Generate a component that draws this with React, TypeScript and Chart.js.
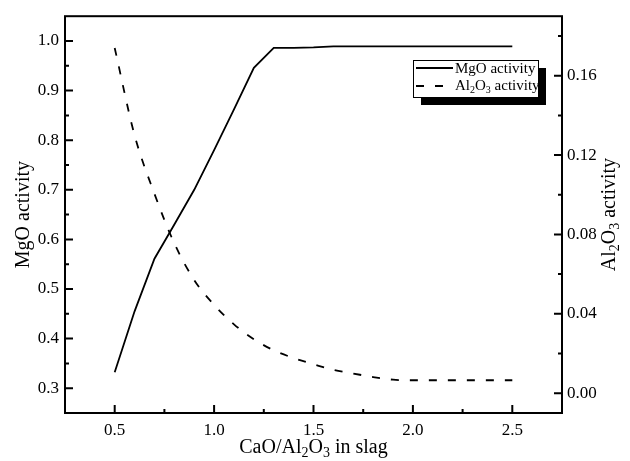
import React, { useEffect, useRef } from 'react';
import { Chart, registerables } from 'chart.js';

Chart.register(...registerables);

// ---- data ----
const caoAl2o3Ratio = [0.5, 0.6, 0.7, 0.8, 0.9, 1.0, 1.1, 1.2, 1.3, 1.4, 1.5, 1.6, 1.7, 1.8, 1.9, 2.0, 2.1, 2.2, 2.3, 2.4, 2.5];
const mgoActivity = [0.332, 0.455, 0.561, 0.63, 0.70, 0.78, 0.862, 0.946, 0.986, 0.986, 0.987, 0.989, 0.989, 0.989, 0.989, 0.989, 0.989, 0.989, 0.989, 0.989, 0.989];
const al2o3Activity = [0.174, 0.130, 0.1005, 0.0755, 0.057, 0.0445, 0.0347, 0.0272, 0.0216, 0.0177, 0.0146, 0.0117, 0.0099, 0.0081, 0.0068, 0.0065, 0.0065, 0.0065, 0.0065, 0.0065, 0.0065];

const xTicks = [0.5, 1.0, 1.5, 2.0, 2.5];
const xMinorTicks = [0.75, 1.25, 1.75, 2.25];
const yLeftTicks = [0.3, 0.4, 0.5, 0.6, 0.7, 0.8, 0.9, 1.0];
const yLeftMinorTicks = [0.35, 0.45, 0.55, 0.65, 0.75, 0.85, 0.95];
const yRightTicks = [0.0, 0.04, 0.08, 0.12, 0.16];
const yRightMinorTicks = [0.02, 0.06, 0.10, 0.14, 0.18];

const FONT = "'Liberation Serif', 'Times New Roman', serif";

type Part = { t: string; sub?: boolean };
const xTitle: Part[] = [{ t: 'CaO/Al' }, { t: '2', sub: true }, { t: 'O' }, { t: '3', sub: true }, { t: ' in slag' }];
const yLeftTitle: Part[] = [{ t: 'MgO activity' }];
const yRightTitle: Part[] = [{ t: 'Al' }, { t: '2', sub: true }, { t: 'O' }, { t: '3', sub: true }, { t: ' activity' }];
const legendMgO: Part[] = [{ t: 'MgO activity' }];
const legendAl: Part[] = [{ t: 'Al' }, { t: '2', sub: true }, { t: 'O' }, { t: '3', sub: true }, { t: ' activity' }];

function partsWidth(ctx: CanvasRenderingContext2D, parts: Part[], size: number) {
  let w = 0;
  for (const p of parts) {
    ctx.font = `${p.sub ? Math.round(size * 0.68) : size}px ${FONT}`;
    w += ctx.measureText(p.t).width;
  }
  return w;
}

function drawParts(ctx: CanvasRenderingContext2D, parts: Part[], x: number, y: number, size: number, align: 'left' | 'center') {
  const w = partsWidth(ctx, parts, size);
  let cx = align === 'center' ? x - w / 2 : x;
  ctx.textBaseline = 'alphabetic';
  ctx.textAlign = 'left';
  for (const p of parts) {
    ctx.font = `${p.sub ? Math.round(size * 0.68) : size}px ${FONT}`;
    ctx.fillText(p.t, cx, p.sub ? y + size * 0.22 : y);
    cx += ctx.measureText(p.t).width;
  }
}

const decorPlugin = {
  id: 'decor',
  afterDraw(chart: any) {
    const ctx: CanvasRenderingContext2D = chart.ctx;
    const { left, right, top, bottom } = chart.chartArea;
    const xs = chart.scales.x;
    const yl = chart.scales.y;
    const yr = chart.scales.y2;
    ctx.save();
    ctx.strokeStyle = '#000';
    ctx.fillStyle = '#000';
    ctx.lineWidth = 2;
    // frame
    ctx.strokeRect(left, top, right - left, bottom - top);
    // ticks (inward)
    ctx.beginPath();
    for (const v of xTicks) { const p = xs.getPixelForValue(v); ctx.moveTo(p, bottom); ctx.lineTo(p, bottom - 8); }
    for (const v of xMinorTicks) { const p = xs.getPixelForValue(v); ctx.moveTo(p, bottom); ctx.lineTo(p, bottom - 4); }
    for (const v of yLeftTicks) { const p = yl.getPixelForValue(v); ctx.moveTo(left, p); ctx.lineTo(left + 8, p); }
    for (const v of yLeftMinorTicks) { const p = yl.getPixelForValue(v); ctx.moveTo(left, p); ctx.lineTo(left + 4, p); }
    for (const v of yRightTicks) { const p = yr.getPixelForValue(v); ctx.moveTo(right, p); ctx.lineTo(right - 8, p); }
    for (const v of yRightMinorTicks) { const p = yr.getPixelForValue(v); ctx.moveTo(right, p); ctx.lineTo(right - 4, p); }
    ctx.stroke();

    // axis titles
    drawParts(ctx, xTitle, (left + right) / 2, 453, 20, 'center');
    const midY = (top + bottom) / 2;
    ctx.save();
    ctx.translate(29, midY);
    ctx.rotate(-Math.PI / 2);
    drawParts(ctx, yLeftTitle, 0, 0, 20, 'center');
    ctx.restore();
    ctx.save();
    ctx.translate(615, midY);
    ctx.rotate(-Math.PI / 2);
    drawParts(ctx, yRightTitle, 0, 0, 20, 'center');
    ctx.restore();

    // legend box with shadow
    const lx = 413, ly = 60, lw = 125, lh = 37;
    ctx.fillStyle = '#000';
    ctx.fillRect(lx + 8, ly + 8, lw, lh);
    ctx.fillStyle = '#fff';
    ctx.fillRect(lx, ly, lw, lh);
    ctx.lineWidth = 1;
    ctx.strokeStyle = '#000';
    ctx.strokeRect(lx + 0.5, ly + 0.5, lw, lh);
    ctx.lineWidth = 1.8;
    ctx.beginPath();
    ctx.moveTo(lx + 3, 68);
    ctx.lineTo(lx + 40, 68);
    ctx.stroke();
    ctx.setLineDash([8, 11]);
    ctx.beginPath();
    ctx.moveTo(lx + 3, 86);
    ctx.lineTo(lx + 40, 86);
    ctx.stroke();
    ctx.setLineDash([]);
    ctx.fillStyle = '#000';
    drawParts(ctx, legendMgO, lx + 42, 73, 15, 'left');
    drawParts(ctx, legendAl, lx + 42, 90, 15, 'left');
    ctx.restore();
  },
};

export default function App() {
  const ref = useRef<HTMLCanvasElement | null>(null);
  useEffect(() => {
    document.body.style.margin = '0';
    const canvas = ref.current;
    if (!canvas) return;
    const chart = new Chart(canvas, {
      type: 'line',
      data: {
        datasets: [
          {
            label: 'MgO activity',
            data: caoAl2o3Ratio.map((x, i) => ({ x, y: mgoActivity[i] })),
            borderColor: '#000',
            borderWidth: 1.8,
            pointRadius: 0,
            tension: 0,
            yAxisID: 'y',
          },
          {
            label: 'Al2O3 activity',
            data: caoAl2o3Ratio.map((x, i) => ({ x, y: al2o3Activity[i] })),
            borderColor: '#000',
            borderWidth: 1.8,
            borderDash: [8, 11],
            pointRadius: 0,
            cubicInterpolationMode: 'monotone',
            yAxisID: 'y2',
          },
        ],
      },
      options: {
        responsive: false,
        animation: false,
        devicePixelRatio: 1,
        layout: { padding: { top: 11, left: 0, right: 0, bottom: 0 } },
        plugins: { legend: { display: false }, tooltip: { enabled: false } },
        scales: {
          x: {
            type: 'linear',
            min: 0.25,
            max: 2.75,
            grid: { display: false, drawTicks: false },
            border: { display: false },
            afterBuildTicks: (s: any) => { s.ticks = xTicks.map((v) => ({ value: v })); },
            afterFit: (s: any) => { s.height = 48; },
            ticks: {
              color: '#000',
              padding: 7,
              font: { family: FONT, size: 17 },
              callback: (v: any) => Number(v).toFixed(1),
            },
          },
          y: {
            type: 'linear',
            position: 'left',
            min: 0.25,
            max: 1.05,
            grid: { display: false, drawTicks: false },
            border: { display: false },
            afterBuildTicks: (s: any) => { s.ticks = yLeftTicks.map((v) => ({ value: v })); },
            afterFit: (s: any) => { s.width = 65; },
            ticks: {
              color: '#000',
              padding: 6,
              font: { family: FONT, size: 17 },
              callback: (v: any) => Number(v).toFixed(1),
            },
          },
          y2: {
            type: 'linear',
            position: 'right',
            min: -0.01,
            max: 0.19,
            grid: { display: false, drawTicks: false },
            border: { display: false },
            afterBuildTicks: (s: any) => { s.ticks = yRightTicks.map((v) => ({ value: v })); },
            afterFit: (s: any) => { s.width = 68; },
            ticks: {
              color: '#000',
              padding: 5,
              font: { family: FONT, size: 17 },
              callback: (v: any) => Number(v).toFixed(2),
            },
          },
        },
      },
      plugins: [decorPlugin],
    } as any);
    return () => chart.destroy();
  }, []);
  return (
    <div style={{ width: 630, height: 461 }}>
      <canvas ref={ref} width={630} height={461} style={{ display: 'block' }} />
    </div>
  );
}
